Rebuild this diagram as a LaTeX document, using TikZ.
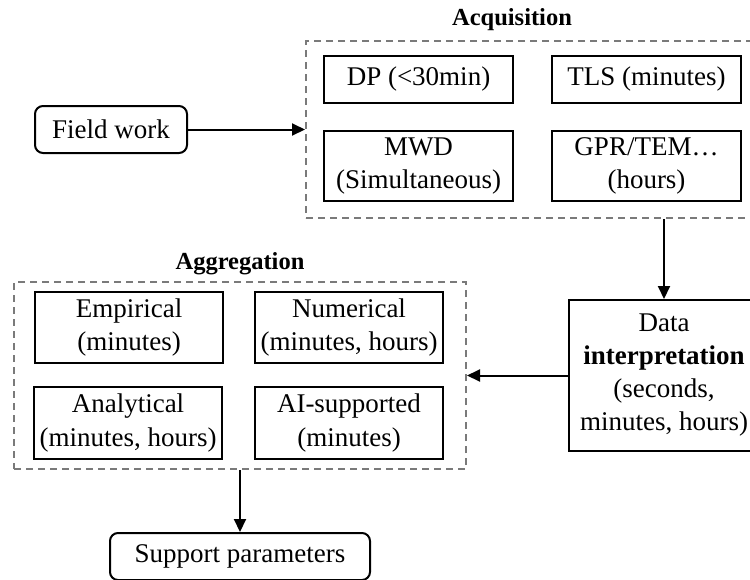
\documentclass[tikz,border=0pt]{standalone}
\usepackage{fontspec}
\setmainfont{Liberation Serif}
\usetikzlibrary{arrows.meta}
\begin{document}
\begin{tikzpicture}[x=1pt,y=-1pt,
  every node/.style={font=\fontsize{27}{33}\selectfont, align=center, inner sep=0pt},
  box/.style={draw=black, line width=2pt, rectangle},
  rbox/.style={box, rounded corners=8pt},
  group/.style={draw=black!52, line width=2pt, dash pattern=on 7pt off 5pt, rectangle},
  grouplabel/.style={font=\fontsize{24.5}{28}\selectfont\bfseries},
  flow/.style={line width=2pt, -{Triangle[length=13pt,width=12pt]}}
]
\useasboundingbox (0,0) rectangle (750,579);

% Acquisition stage
\node[group, minimum width=453pt, minimum height=177pt] (acq) at (532.5,129.5) {};
\node[grouplabel] (acqlabel) at (512,20) {Acquisition};
\node[box, minimum width=189pt, minimum height=47pt] (dp)  at (418.5,79.5) {DP (<30min)};
\node[box, minimum width=189pt, minimum height=47pt] (tls) at (646.5,79.5) {TLS (minutes)};
\node[box, minimum width=189pt, minimum height=70pt] (mwd) at (418.5,166) {MWD\\(Simultaneous)};
\node[box, minimum width=189pt, minimum height=70pt] (gpr) at (646.5,166) {GPR/TEM\ldots\\(hours)};

% Field work
\node[rbox, minimum width=152pt, minimum height=47pt] (field) at (111,129.5) {Field work};

% Data interpretation
\node[box, minimum width=190pt, minimum height=151pt] (data) at (664,375.5)
  {Data\\\textbf{interpretation}\\(seconds,\\minutes, hours)};

% Aggregation stage
\node[group, minimum width=452pt, minimum height=187pt] (agg) at (240,375.5) {};
\node[grouplabel] (agglabel) at (240,264) {Aggregation};
\node[box, minimum width=188pt, minimum height=71pt] (emp) at (129,327.5) {Empirical\\(minutes)};
\node[box, minimum width=188pt, minimum height=71pt] (num) at (349,327.5) {Numerical\\(minutes, hours)};
\node[box, minimum width=188pt, minimum height=72pt] (ana) at (128,423) {Analytical\\(minutes, hours)};
\node[box, minimum width=188pt, minimum height=72pt] (ai)  at (349,423) {AI-supported\\(minutes)};

% Support parameters
\node[rbox, minimum width=260pt, minimum height=47pt] (support) at (240,556.5) {Support parameters};

% Connectors
\draw[flow] (field.east) -- (acq.west);
\draw[flow] (acq.south -| data.north) -- (data.north);
\draw[flow] (data.west) -- (data.west -| agg.east);
\draw[flow] (agg.south) -- (support.north);
\end{tikzpicture}
\end{document}
